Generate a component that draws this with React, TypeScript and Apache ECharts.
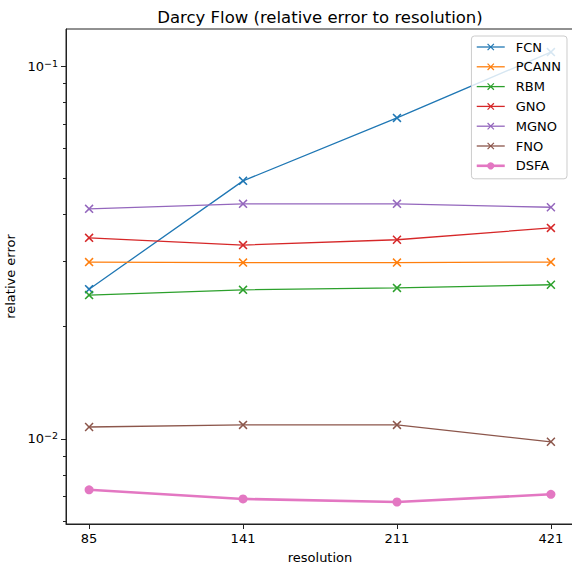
import React, { useEffect, useRef } from "react";
import * as echarts from "echarts";

const resolutions = ["85", "141", "211", "421"];
const seriesNames = ["FCN", "PCANN", "RBM", "GNO", "MGNO", "FNO", "DSFA"];
const fcn = [0.0252, 0.0492, 0.0726, 0.109];
const pcann = [0.0298, 0.0297, 0.0297, 0.0298];
const rbm = [0.0243, 0.0251, 0.0254, 0.0259];
const gno = [0.0346, 0.0331, 0.0342, 0.0368];
const mgno = [0.0414, 0.0427, 0.0427, 0.0418];
const fno = [0.01076, 0.0109, 0.0109, 0.00982];
const dsfa = [0.0073, 0.0069, 0.00677, 0.0071];
const majorTicks = [0.01, 0.1];
const minorTicks = [0.006, 0.007, 0.008, 0.009, 0.02, 0.03, 0.04, 0.05, 0.06, 0.07, 0.08, 0.09];
const colors = ["#1f77b4", "#ff7f0e", "#2ca02c", "#d62728", "#9467bd", "#8c564b", "#e377c2"];

const FONT = "DejaVu Sans";
const X_SYMBOL = "path://M0,1.2L1.2,0L5,3.8L8.8,0L10,1.2L6.2,5L10,8.8L8.8,10L5,6.2L1.2,10L0,8.8L3.8,5Z";

function buildOption() {
  const all = [fcn, pcann, rbm, gno, mgno, fno, dsfa];
  const series = all.map((vals, k) => {
    const isD = k === 6;
    return {
      name: seriesNames[k],
      type: "line",
      data: vals.map((v, i) => [i, v]),
      symbol: isD ? "circle" : X_SYMBOL,
      symbolSize: 9,
      showSymbol: true,
      lineStyle: { color: colors[k], width: isD ? 2.6 : 1.3 },
      itemStyle: { color: colors[k], borderWidth: 0 },
      z: 1,
    };
  });
  return {
    animation: false,
    textStyle: { fontFamily: FONT },
    grid: {
      left: 66,
      top: 29,
      width: 508,
      height: 495,
      show: true,
      borderColor: "#222",
      borderWidth: 1,
      containLabel: false,
      outerBoundsMode: "none",
    },
    graphic: [
      {
        type: "text",
        x: 320,
        y: 17,
        style: {
          text: "Darcy Flow (relative error to resolution)",
          fontSize: 16.5,
          fontFamily: FONT,
          fill: "#000",
          textAlign: "center",
          textVerticalAlign: "middle",
        },
      },
    ],
    legend: {
      orient: "vertical",
      right: 5,
      top: 36,
      z: 20,
      zlevel: 1,
      data: seriesNames.map((n, k) => ({
        name: n,
        lineStyle: { width: k === 6 ? 2.6 : 1.3 },
      })),
      backgroundColor: "rgba(255,255,255,0.82)",
      borderColor: "#ccc",
      borderWidth: 1,
      borderRadius: 3,
      padding: [4, 6, 6, 4],
      itemWidth: 28,
      itemHeight: 9,
      itemGap: 5.8,
      textStyle: { fontSize: 13, fontFamily: FONT, color: "#000", lineHeight: 14, padding: [0, 0, 0, 6] },
    },
    xAxis: {
      type: "value",
      min: -0.15,
      max: 3.15,
      name: "resolution",
      nameLocation: "middle",
      nameGap: 27,
      nameTextStyle: { fontSize: 13, color: "#000", fontFamily: FONT },
      axisLine: { show: true, onZero: false, lineStyle: { color: "#222", width: 1 } },
      axisTick: { show: true, length: 5, customValues: [0, 1, 2, 3], lineStyle: { color: "#222" } },
      axisLabel: {
        customValues: [0, 1, 2, 3],
        formatter: (v: number) => resolutions[Math.round(v)] ?? "",
        fontSize: 13,
        color: "#000",
        margin: 8,
        fontFamily: FONT,
      },
      splitLine: { show: false },
    },
    yAxis: [
      {
        type: "log",
        logBase: 10,
        min: 0.00591,
        max: 0.1257,
        name: "relative error",
        nameLocation: "middle",
        nameGap: 44,
        nameRotate: 90,
        nameTextStyle: { fontSize: 13, color: "#000", fontFamily: FONT },
        axisLine: { show: true, onZero: false, lineStyle: { color: "#222", width: 1 } },
        axisTick: { show: true, length: 5, customValues: majorTicks, lineStyle: { color: "#222" } },
        axisLabel: {
          customValues: majorTicks,
          margin: 8,
          fontSize: 13,
          color: "#000",
          fontFamily: FONT,
          formatter: (v: number) => {
            const e = Math.round(Math.log10(v));
            return "10{s|" + (e < 0 ? "\u2212" + -e : String(e)) + "}";
          },
          rich: {
            s: { fontSize: 9.5, verticalAlign: "top", padding: [0, 0, 6, 0], fontFamily: FONT, color: "#000" },
          },
        },
        splitLine: { show: false },
        minorTick: { show: false },
      },
      {
        type: "log",
        logBase: 10,
        min: 0.00591,
        max: 0.1257,
        position: "left",
        axisLine: { show: false, onZero: false },
        axisTick: { show: true, length: 3, customValues: minorTicks, lineStyle: { color: "#222" } },
        axisLabel: { show: false },
        splitLine: { show: false },
      },
    ],
    series,
  };
}

export default function App() {
  const ref = useRef<HTMLDivElement>(null);
  useEffect(() => {
    if (!ref.current) return;
    const chart = echarts.init(ref.current, null, { renderer: "svg" });
    chart.setOption(buildOption() as any);
    return () => chart.dispose();
  }, []);
  return <div ref={ref} style={{ position: "fixed", left: 0, top: 0, width: 572, height: 565, background: "#fff" }} />;
}
